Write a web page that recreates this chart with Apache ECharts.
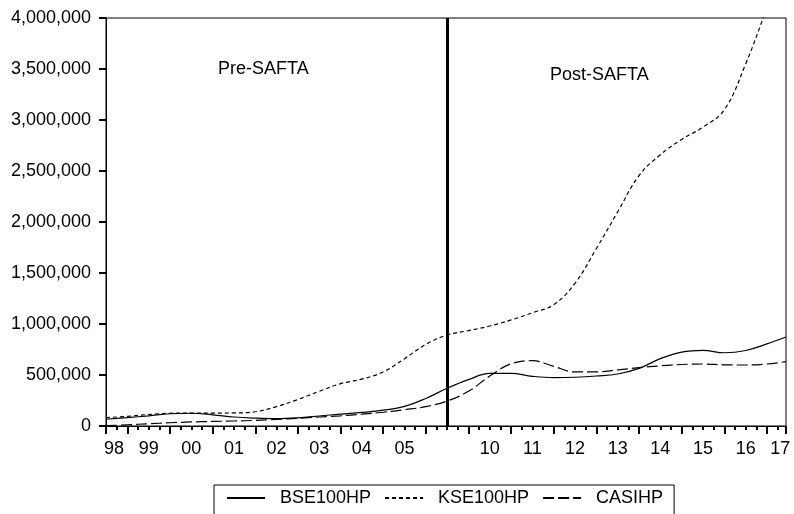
<!DOCTYPE html>
<html><head><meta charset="utf-8">
<script src="https://cdn.jsdelivr.net/npm/echarts@6/dist/echarts.min.js"></script>
<style>html,body{margin:0;padding:0;background:#fff}#c{width:794px;height:514px;background:#fff}</style>
</head><body><div id="c"></div>
<script>
// time index in years (0 = first major tick); one reading every half year
const T = [-0.5,0,0.5,1,1.5,2,2.5,3,3.5,4,4.5,5,5.5,6,6.5,7,7.5,8,8.5,9,9.5,10,10.5,11,11.5,12,12.5,13,13.5,14,14.5,15,15.446];
const BSE100HP = [66000,82000,100000,120000,125000,110000,88000,77000,72000,80000,98000,117000,133000,155000,192000,270000,370000,455000,515000,515000,487000,474000,478000,490000,510000,565000,660000,725000,742000,718000,740000,805000,872000];
const KSE100HP = [82000,95000,113000,125000,127000,127000,128000,140000,190000,260000,340000,415000,460000,530000,660000,800000,892000,935000,980000,1040000,1110000,1190000,1400000,1740000,2100000,2455000,2660000,2810000,2930000,3100000,3550000,4100000,4600000];
const CASIHP = [3000,12000,22000,32000,40000,45000,49000,55000,64000,75000,88000,100000,116000,135000,160000,190000,245000,340000,490000,610000,640000,585000,530000,530000,550000,572000,590000,603000,608000,600000,598000,608000,631000];
const seriesNames = ['BSE100HP','KSE100HP','CASIHP'];
const yearLabels = ['98','99','00','01','02','03','04','05','10','11','12','13','14','15','16','17'];
const yearLabelAt = [-0.3125,0.5,1.5,2.5,3.5,4.5,5.5,6.5,8.5,9.5,10.5,11.5,12.5,13.5,14.5,15.3125];
const BREAK_AT = 7.5;
const X_MIN = -0.5, X_MAX = 15.446;
const Y_MIN = 0, Y_MAX = 4000000, Y_STEP = 500000;
const regionLabels = ['Pre-SAFTA','Post-SAFTA'];

const FONT = 'Liberation Sans, Arial, sans-serif';
const zip = (a) => T.map((t, i) => [t, a[i]]);
const chart = echarts.init(document.getElementById('c'));
const base = {type: 'line', symbol: 'none', showSymbol: false, smooth: 0.4, xAxisIndex: 0, yAxisIndex: 0};
chart.setOption({
  animation: false,
  grid: {left: 106, right: 8, top: 18, bottom: 88, show: true, borderColor: '#000', borderWidth: 1},
  xAxis: [
    {type: 'value', min: X_MIN, max: X_MAX, minInterval: 1, maxInterval: 1, position: 'bottom',
     axisLine: {show: true, onZero: false, lineStyle: {color: '#000'}},
     axisTick: {show: true, length: 8, lineStyle: {color: '#000', width: 2}},
     minorTick: {show: true, splitNumber: 4, length: 4, lineStyle: {color: '#000', width: 2}},
     axisLabel: {show: true, formatter: () => ''}, splitLine: {show: false}},
    {type: 'value', min: X_MIN, max: X_MAX, interval: 0.0625, position: 'bottom',
     axisLine: {show: false, onZero: false}, axisTick: {show: false}, splitLine: {show: false},
     axisLabel: {show: true, margin: 14, fontSize: 18, color: '#000', fontFamily: FONT,
       formatter: (v) => { const i = yearLabelAt.findIndex(p => Math.abs(p - v) < 1e-6); return i >= 0 ? yearLabels[i] : ''; }}}
  ],
  yAxis: {type: 'value', min: Y_MIN, max: Y_MAX, interval: Y_STEP,
    axisLine: {show: true, onZero: false, lineStyle: {color: '#000'}},
    axisTick: {show: true, length: 7, lineStyle: {color: '#000', width: 2}},
    splitLine: {show: false},
    axisLabel: {margin: 15, fontSize: 18, color: '#000', fontFamily: FONT,
      formatter: (v) => v.toLocaleString('en-US')}},
  legend: {left: 214, top: 485, orient: 'horizontal', itemWidth: 38, itemHeight: 14, itemGap: 13,
    padding: [4, 11, 8, 12], borderColor: '#000', borderWidth: 1, backgroundColor: '#fff',
    itemStyle: {opacity: 0},
    textStyle: {fontSize: 18, color: '#000', fontFamily: FONT, padding: [0, 0, 0, 10]},
    data: seriesNames},
  graphic: [
    {type: 'text', left: 266 - 48, top: 60, style: {text: regionLabels[0], fontSize: 18, fill: '#000', fontFamily: FONT}},
    {type: 'text', left: 550, top: 66, style: {text: regionLabels[1], fontSize: 18, fill: '#000', fontFamily: FONT}}
  ],
  series: [
    Object.assign({}, base, {name: seriesNames[0], data: zip(BSE100HP), lineStyle: {color: '#000', width: 1.2, type: 'solid'}, itemStyle: {color: '#000'},
      markLine: {silent: true, symbol: 'none', label: {show: false}, lineStyle: {color: '#000', width: 3, type: 'solid'}, data: [{xAxis: BREAK_AT}]}}),
    Object.assign({}, base, {name: seriesNames[1], data: zip(KSE100HP), lineStyle: {color: '#000', width: 1.2, type: [4, 3]}, itemStyle: {color: '#000'}}),
    Object.assign({}, base, {name: seriesNames[2], data: zip(CASIHP), lineStyle: {color: '#000', width: 1.2, type: [11, 4]}, itemStyle: {color: '#000'}})
  ]
});
</script></body></html>
